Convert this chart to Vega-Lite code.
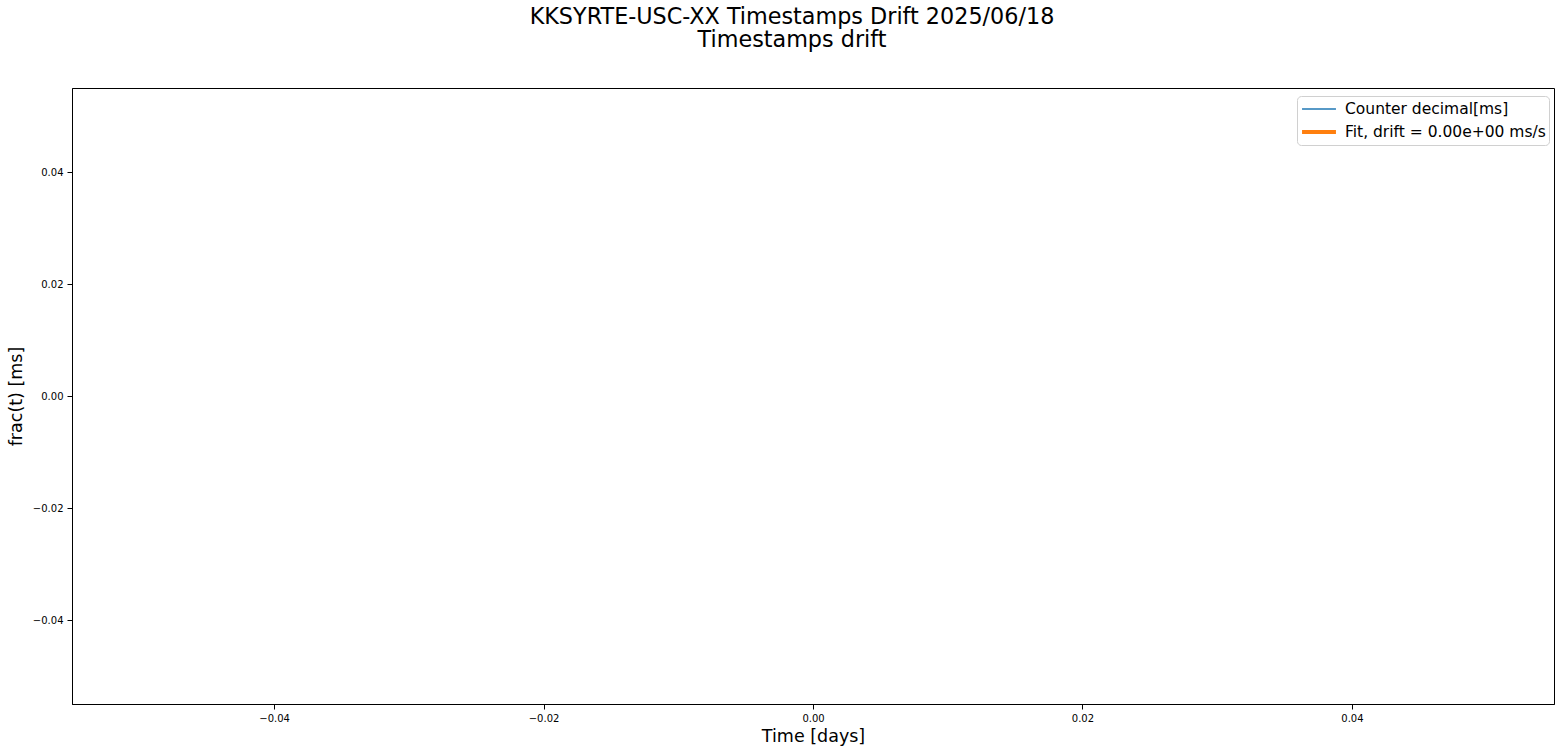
{
  "$schema": "https://vega.github.io/schema/vega-lite/v6.json",
  "autosize": {"type": "none"},
  "padding": {"left": 72, "top": 88, "right": 14, "bottom": 48},
  "width": 1482,
  "height": 616,
  "background": "white",
  "config": {
    "font": "DejaVu Sans",
    "view": {"stroke": "black", "strokeWidth": 1},
    "axis": {
      "domainColor": "black",
      "tickColor": "black",
      "tickSize": 5,
      "labelColor": "black",
      "labelFontSize": 10,
      "titleColor": "black",
      "titleFontSize": 17.5,
      "titleFontWeight": "normal",
      "grid": false
    }
  },
  "title": {
    "text": ["KKSYRTE-USC-XX Timestamps Drift 2025/06/18", "Timestamps drift"],
    "fontSize": 22.3,
    "fontWeight": "normal",
    "color": "black",
    "anchor": "middle",
    "frame": "group",
    "dx": -21,
    "offset": 37,
    "lineHeight": 23
  },
  "data": {
    "values": [
      {"time": 0, "frac": 0, "series": "Counter decimal[ms]"},
      {"time": 0, "frac": 0, "series": "Fit, drift = 0.00e+00 ms/s"}
    ]
  },
  "mark": {"type": "line", "clip": true},
  "encoding": {
    "x": {
      "field": "time",
      "type": "quantitative",
      "title": "Time [days]",
      "scale": {"domain": [-0.055, 0.055], "nice": false, "zero": false},
      "axis": {"values": [-0.04, -0.02, 0, 0.02, 0.04], "format": ".2f", "labelPadding": 4, "titleY": 23}
    },
    "y": {
      "field": "frac",
      "type": "quantitative",
      "title": "frac(t) [ms]",
      "scale": {"domain": [-0.055, 0.055], "nice": false, "zero": false},
      "axis": {"values": [-0.04, -0.02, 0, 0.02, 0.04], "format": ".2f", "labelPadding": 4, "titleX": -47}
    },
    "color": {
      "field": "series",
      "type": "nominal",
      "title": null,
      "scale": {"domain": ["Counter decimal[ms]", "Fit, drift = 0.00e+00 ms/s"], "range": ["#1f77b4", "#ff7f0e"]},
      "legend": {
        "orient": "none",
        "legendX": 1225,
        "legendY": 8,
        "symbolType": "stroke",
        "symbolSize": 1150,
        "clipHeight": 20,
        "labelFontSize": 15.5,
        "labelColor": "black",
        "labelLimit": 400,
        "labelOffset": 7,
        "rowPadding": 3,
        "padding": 3,
        "fillColor": "white",
        "strokeColor": "#d0d0d0",
        "cornerRadius": 4
      }
    },
    "strokeWidth": {
      "field": "series",
      "type": "nominal",
      "scale": {"domain": ["Counter decimal[ms]", "Fit, drift = 0.00e+00 ms/s"], "range": [1.5, 4]},
      "legend": null
    }
  }
}
